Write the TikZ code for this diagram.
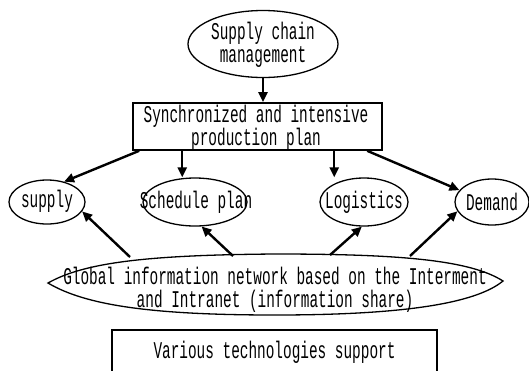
\documentclass[tikz,border=0pt]{standalone}
\usepackage{fontspec}
\setmainfont[FakeStretch=0.6]{Liberation Mono}
\usetikzlibrary{shapes.geometric,arrows.meta,calc}
\begin{document}
\begin{tikzpicture}[x=1pt,y=-1pt,
  every node/.style={font=\fontsize{24}{21}\selectfont, align=center, inner sep=0pt},
  oval/.style={ellipse, draw, line width=1.3pt, inner sep=0pt},
  rect/.style={rectangle, draw, line width=1.6pt, inner sep=0pt},
  lbl/.style={inner sep=0pt},
  arr/.style={line width=2.4pt, -{Triangle[length=10pt,width=9pt]}}]
\useasboundingbox[fill=white] (0,0) rectangle (529,370);
\node[oval, minimum width=150, minimum height=67] (scm) at (263,44) {};
\node[lbl, font=\fontsize{24}{23}\selectfont] (scmt) at (263,45) {Supply chain\\management};
\node[rect, minimum width=249, minimum height=47] (box) at (257.5,126.5) {};
\node[lbl] (boxt) at (256,128) {Synchronized and intensive\\production plan};
\node[oval, minimum width=76, minimum height=44] (supply) at (47,202) {};
\node[lbl] (supplyt) at (47,201) {supply};
\node[oval, minimum width=104, minimum height=48] (sched) at (195,202) {};
\node[lbl] (schedt) at (196,202) {Schedule plan};
\node[oval, minimum width=88, minimum height=48] (logi) at (364,202) {};
\node[lbl] (logit) at (364,202) {Logistics};
\node[oval, minimum width=74, minimum height=46] (demand) at (492,202) {};
\node[lbl] (demandt) at (492,202) {Demand};
\node[minimum width=455, minimum height=60] (gin) at (275.5,285) {};
\draw[line width=1.3pt] (48,283) .. controls (85,262) and (150,255) .. (275,254)
  .. controls (400,254) and (470,260) .. (503,281)
  .. controls (475,304) and (400,315) .. (275,315)
  .. controls (150,315) and (85,305) .. (48,283) -- cycle;
\node[lbl, font=\fontsize{24}{22.5}\selectfont] (gint) at (275,290) {Global information network based on the Interment\\and Intranet (information share)};
\node[rect, minimum width=325, minimum height=46] (tech) at (274.5,353) {};
\node[lbl] (techt) at (274.5,352) {Various technologies support};

\coordinate (b1) at ($(box.south west)+(7,0)$);
\coordinate (b2) at ($(box.south west)+(50,0)$);
\coordinate (b3) at ($(box.south west)+(202,0)$);
\coordinate (b4) at ($(box.south west)+(235,0)$);
\draw[arr] (scm.south) -- (scm.south |- box.north);
\draw[arr] (b1) -- (supply.50);
\draw[arr] (b2) -- (b2 |- sched.north);
\draw[arr] (b3) -- (b3 |- logi.north);
\draw[arr] (b4) -- (demand.160);

\coordinate (g1) at (130,257);
\coordinate (g2) at (233,256);
\coordinate (g3) at (330,255);
\coordinate (g4) at (410,256);
\draw[arr] (g1) -- (supply.-15);
\draw[arr] (g2) -- (sched.-75);
\draw[arr] (g3) -- (logi.-95);
\draw[arr] (g4) -- (demand.195);
\end{tikzpicture}
\end{document}
